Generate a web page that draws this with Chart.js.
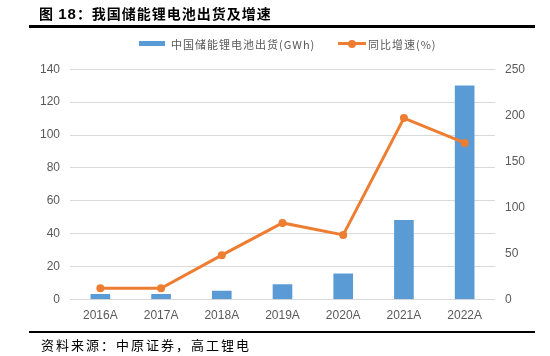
<!DOCTYPE html>
<html><head><meta charset="utf-8">
<script src="https://cdn.jsdelivr.net/npm/chart.js@4/dist/chart.umd.min.js"></script>
<style>
html,body{margin:0;padding:0;background:#fff;}
#wrap{position:relative;width:550px;height:356px;overflow:hidden;font-family:"Noto Sans CJK SC","Liberation Sans",sans-serif;}
#c{position:absolute;left:0;top:0;}
.title{position:absolute;left:39px;top:3px;font-size:14px;font-weight:bold;color:#000;letter-spacing:1px;white-space:nowrap;}
.title .n{font-family:"Liberation Sans",Arial,sans-serif;font-size:15px;}
.rule{position:absolute;left:29px;width:506px;background:#000;}
.src{position:absolute;left:41px;top:335px;font-size:13px;color:#000;letter-spacing:2px;white-space:nowrap;}
.leg{position:absolute;top:36px;font-size:11px;color:#595959;white-space:nowrap;letter-spacing:1px;}
.sw{position:absolute;}
</style></head>
<body><div id="wrap">
<canvas id="c" width="550" height="356"></canvas>
<div class="title">图 <span class="n">18</span>：我国储能锂电池出货及增速</div>
<div class="rule" style="top:25px;height:3px;"></div>
<div class="sw" style="left:139px;top:41px;width:26px;height:5px;background:#5b9bd5;"></div>
<div class="leg" style="left:171px;">中国储能锂电池出货(GWh)</div>
<div class="sw" style="left:338px;top:42px;width:28px;height:3px;background:#ed7d31;"></div>
<div class="sw" style="left:348px;top:39.5px;width:8px;height:8px;border-radius:50%;background:#ed7d31;"></div>
<div class="leg" style="left:368px;">同比增速(%)</div>
<div class="rule" style="top:331px;height:2px;"></div>
<div class="src">资料来源：中原证券，高工锂电</div>
</div>
<script>
const categories = ["2016A","2017A","2018A","2019A","2020A","2021A","2022A"];
const shipments = [3, 3, 5, 9, 15.5, 48, 130];
const growth = [12, 12, 48, 83, 70, 197, 170];
const leftTicks = [0,20,40,60,80,100,120,140];
const rightTicks = [0,50,100,150,200,250];

const tickFont = {family:"'Liberation Sans', Arial, sans-serif", size:12};
new Chart(document.getElementById('c'), {
  type:'bar',
  data:{
    labels:categories,
    datasets:[
      {type:'line', label:'同比增速(%)', data:growth, yAxisID:'y1', borderColor:'#ed7d31', backgroundColor:'#ed7d31',
       borderWidth:3, pointRadius:4, pointHoverRadius:4, pointBackgroundColor:'#ed7d31', pointBorderWidth:0, tension:0, order:0},
      {type:'bar', label:'中国储能锂电池出货(GWh)', data:shipments, yAxisID:'y', backgroundColor:'#5b9bd5',
       barThickness:19, order:1}
    ]
  },
  options:{
    responsive:false, animation:false,
    layout:{padding:{top:69.3,left:0,right:0,bottom:0}},
    plugins:{legend:{display:false}, tooltip:{enabled:false}},
    scales:{
      x:{grid:{display:false, drawTicks:false}, border:{display:false},
         ticks:{color:'#595959', font:tickFont, padding:9},
         afterFit(s){ s.height = 56.7; }},
      y:{position:'left', min:0, max:140, 
         afterBuildTicks(s){ s.ticks = leftTicks.map(v=>({value:v})); },
         grid:{color:'#d9d9d9', lineWidth:1, drawTicks:false}, border:{display:false},
         ticks:{color:'#595959', font:tickFont, padding:10},
         afterFit(s){ s.width = 70; }},
      y1:{position:'right', min:0, max:250,
         afterBuildTicks(s){ s.ticks = rightTicks.map(v=>({value:v})); },
         grid:{display:false, drawTicks:false}, border:{display:false},
         ticks:{color:'#595959', font:tickFont, padding:10},
         afterFit(s){ s.width = 55; }}
    }
  }
});
</script>
</body></html>
